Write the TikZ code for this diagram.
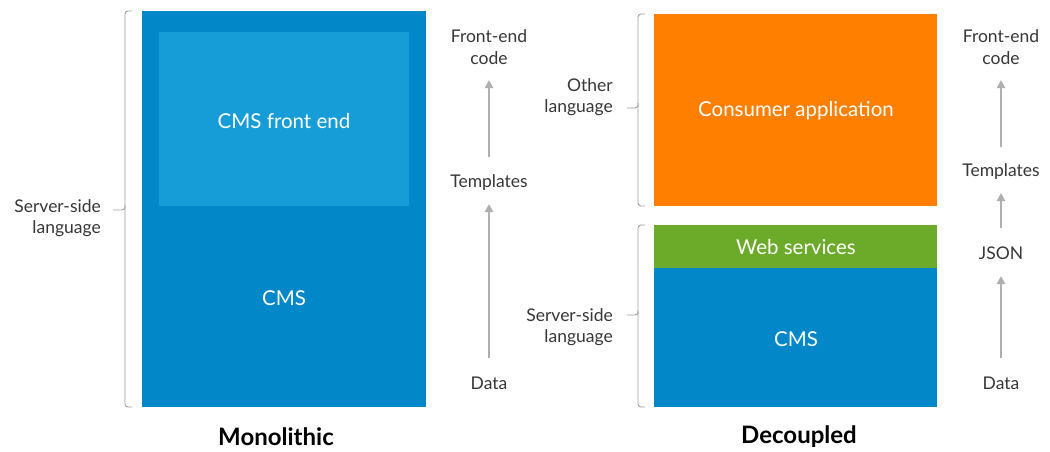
\documentclass[tikz,border=0pt]{standalone}
\usepackage{fontspec}
\setmainfont{Lato}
\usetikzlibrary{arrows.meta}
\definecolor{cmsblue}{RGB}{2,135,200}
\definecolor{feblue}{RGB}{22,157,216}
\definecolor{apporange}{RGB}{255,128,0}
\definecolor{wsgreen}{RGB}{108,170,42}
\definecolor{labelgray}{RGB}{55,55,55}
\definecolor{bracegray}{RGB}{160,160,160}
\definecolor{arrowgray}{RGB}{175,175,175}
\tikzset{
  block/.style={inner sep=0pt, outer sep=0pt},
  blocktext/.style={text=white, font=\fontsize{20.5}{24}\selectfont},
  side/.style={text=labelgray, font=\fontsize{17.5}{21.5}\selectfont, align=right, anchor=east, inner sep=0pt},
  stage/.style={text=labelgray, font=\fontsize{17.5}{21.5}\selectfont, align=center, inner sep=0pt},
  flow/.style={arrowgray, line width=2pt, -{Triangle[length=8pt,width=8pt]}, shorten >=0pt},
  bracket/.style={bracegray, line width=0.9pt, rounded corners=3pt},
  title/.style={font=\bfseries\fontsize{24}{28}\selectfont, text=black}
}
\begin{document}
\begin{tikzpicture}[x=1pt,y=-1pt]
\useasboundingbox[fill=white] (0,0) rectangle (1050,451);

% ---- Monolithic ----
\fill[cmsblue] (142,11) rectangle (426,407);
\fill[feblue] (159,32) rectangle (409,206);
\node[blocktext] (mfe) at (284,121) {CMS front end};
\node[blocktext] (mcms) at (284,298) {CMS};

\draw[bracket] (132,11) -- (125,11) -- (125,210) -- (113,210);
\draw[bracket] (125,205) -- (125,407) -- (132,407);
\node[side] (mlang) at (101,218) {Server-side\\language};

\node[stage] (mcode) at (489,47) {Front-end\\code};
\node[stage] (mtpl) at (489,183) {Templates};
\node[stage] (mdata) at (489,383) {Data};
\draw[flow] (489,358) -- (489,204);
\draw[flow] (489,157) -- (489,80);

\node[title] (mono) at (276,437) {Monolithic};

% ---- Decoupled ----
\fill[apporange] (654,14) rectangle (937,206);
\fill[wsgreen] (654,225) rectangle (937,268);
\fill[cmsblue] (654,268) rectangle (937,407);
\node[blocktext] (app) at (796,111) {Consumer application};
\node[blocktext] (ws) at (796,247) {Web services};
\node[blocktext] (dcms) at (796,339) {CMS};

\draw[bracket] (645,14) -- (638,14) -- (638,108) -- (627,108);
\draw[bracket] (638,103) -- (638,206) -- (645,206);
\node[side] (olang) at (613,97) {Other\\language};

\draw[bracket] (645,225) -- (638,225) -- (638,315) -- (627,315);
\draw[bracket] (638,310) -- (638,407) -- (645,407);
\node[side] (slang) at (613,327) {Server-side\\language};

\node[stage] (dcode) at (1001,47) {Front-end\\code};
\node[stage] (dtpl) at (1001,172) {Templates};
\node[stage] (json) at (1001,253) {JSON};
\node[stage] (ddata) at (1001,383) {Data};
\draw[flow] (1001,358) -- (1001,276);
\draw[flow] (1001,228) -- (1001,193);
\draw[flow] (1001,147) -- (1001,80);

\node[title] (dec) at (799,437) {Decoupled};
\end{tikzpicture}
\end{document}
